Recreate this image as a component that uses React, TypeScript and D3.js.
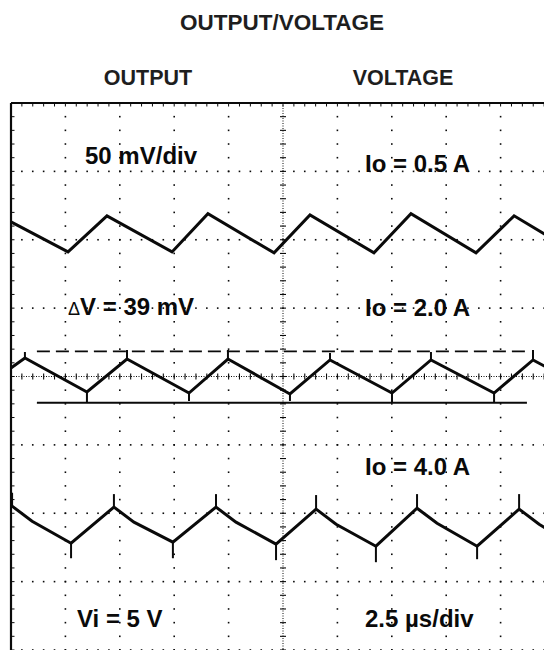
import React from "react";
import * as d3 from "d3";

// Oscilloscope settings
const TIME_PER_DIV = 2.5; // µs/div
const VOLT_PER_DIV = 50; // mV/div
const X_DIVS = 10;
const Y_DIVS = 8;

// Trace 1: Io = 0.5 A  (time µs, voltage mV relative to screen centre)
const trace1T = [0, 2.62, 4.41, 7.4, 9.05, 12.09, 13.74, 16.68, 18.38, 21.37, 23.12, 25];
const trace1V = [113.1, 91.1, 117.5, 91.1, 119.0, 90.4, 118.2, 90.4, 119.0, 90.4, 117.5, 99.6];

// Trace 2: Io = 2.0 A
const trace2T = [0, 0.64, 3.49, 5.33, 8.18, 9.97, 12.82, 14.66, 17.51, 19.3, 22.2, 23.99, 25];
const trace2V = [6.2, 13.5, -11.3, 12.8, -12.1, 12.8, -12.8, 12.1, -12.1, 12.1, -12.1, 12.1, 3.5];
const spike2T = [0.64, 3.49, 5.33, 8.18, 9.97, 12.82, 14.66, 17.51, 19.3, 22.2, 23.99];
const spike2Tip = [17.9, -18.7, 19.4, -17.9, 19.4, -17.9, 17.2, -19.4, 17.9, -19.4, 19.4];

// Trace 3: Io = 4.0 A
const trace3T = [0.05, 0.97, 2.76, 4.73, 5.65, 7.44, 9.42, 10.34, 12.18, 14.02, 14.94, 16.77, 18.66, 19.58, 21.42, 23.35, 24.27, 25];
const trace3V = [-94.8, -105.8, -121.9, -95.5, -106.5, -121.1, -95.5, -106.5, -122.6, -97.0, -108.0, -124.1, -96.3, -107.3, -124.1, -97.0, -108.0, -115.0];
const spike3T = [0.05, 2.76, 4.73, 7.44, 9.42, 12.18, 14.02, 16.77, 18.66, 21.42, 23.35];
const spike3Tip = [-85.0, -132.9, -86.0, -132.9, -86.0, -134.3, -86.7, -135.8, -86.0, -133.6, -86.0];

// Cursors for ΔV measurement (Io = 2.0 A)
const cursorT = [1.19, 23.71];
const cursorUpper = 18.4;
const cursorLower = -19.2;

// Texts
const titleText = "OUTPUT/VOLTAGE";
const subtitleLeft = "OUTPUT";
const subtitleRight = "VOLTAGE";
const labelTexts = ["50 mV/div", "Io = 0.5 A", "V = 39 mV", "Io = 2.0 A", "Io = 4.0 A", "Vi = 5 V", "2.5 µs/div"];

const W = 544;
const H = 650;
const FONT = "'Liberation Sans', Arial, Helvetica, sans-serif";
const INK = "#0a0a0a";

export default function App() {
  const tMax = TIME_PER_DIV * X_DIVS;
  const vMax = (VOLT_PER_DIV * Y_DIVS) / 2;
  const x = d3.scaleLinear().domain([0, tMax]).range([11, 555]);
  const y = d3.scaleLinear().domain([-vMax, vMax]).range([650, 103]);

  const line = d3
    .line<[number, number]>()
    .x((d) => x(d[0]))
    .y((d) => y(d[1]));

  const zip = (a: number[], b: number[]) => a.map((t, i) => [t, b[i]] as [number, number]);

  const vGrid = d3.range(1, X_DIVS).map((i) => i * TIME_PER_DIV).filter((t) => t !== tMax / 2);
  const hGrid = d3.range(-Y_DIVS / 2, Y_DIVS / 2).map((j) => j * VOLT_PER_DIV).filter((v) => v !== 0);
  const vSub = d3.range(-vMax, vMax + 0.01, VOLT_PER_DIV / 5);
  const tSub = d3.range(0, tMax + 0.01, TIME_PER_DIV / 5);

  const dots: JSX.Element[] = [];
  vGrid.forEach((t, i) =>
    vSub.forEach((v, k) =>
      dots.push(<rect key={`vd${i}-${k}`} x={x(t) - 0.8} y={y(v) - 0.8} width={1.6} height={1.6} fill={INK} />)
    )
  );
  hGrid.forEach((v, i) =>
    tSub.forEach((t, k) =>
      dots.push(<rect key={`hd${i}-${k}`} x={x(t) - 0.8} y={y(v) - 0.8} width={1.6} height={1.6} fill={INK} />)
    )
  );

  const cx = x(tMax / 2);
  const cy = y(0);

  const labelStyle = { fontFamily: FONT, fontWeight: 700, fontSize: 24, fill: INK } as const;

  return (
    <svg width={W} height={H} style={{ position: "absolute", left: 0, top: 0, background: "#fff" }}>
      <rect x={0} y={0} width={W} height={H} fill="#fff" />
      {/* titles */}
      <text x={282} y={30} textAnchor="middle" style={{ fontFamily: FONT, fontWeight: 700, fontSize: 22.5, fill: "#1e1e1e" }}>
        {titleText}
      </text>
      <text x={148} y={85} textAnchor="middle" style={{ fontFamily: FONT, fontWeight: 700, fontSize: 21.5, fill: "#1e1e1e" }}>
        {subtitleLeft}
      </text>
      <text x={403} y={85} textAnchor="middle" style={{ fontFamily: FONT, fontWeight: 700, fontSize: 21.5, fill: "#1e1e1e" }}>
        {subtitleRight}
      </text>

      {/* grid dots */}
      <g>{dots}</g>

      {/* centre axes */}
      <line x1={cx} x2={cx} y1={y(vMax)} y2={y(-vMax)} stroke={INK} strokeWidth={1} strokeDasharray="1,1.5" />
      <line x1={x(0)} x2={x(tMax)} y1={cy} y2={cy} stroke={INK} strokeWidth={1} strokeDasharray="1,1.5" />
      {vSub.map((v, k) => (
        <line key={`cvt${k}`} x1={cx - 3} x2={cx + 3} y1={y(v)} y2={y(v)} stroke={INK} strokeWidth={1.1} />
      ))}
      {tSub.map((t, k) => (
        <line key={`cht${k}`} x1={x(t)} x2={x(t)} y1={cy - 3} y2={cy + 3} stroke={INK} strokeWidth={1.1} />
      ))}

      {/* frame */}
      <line x1={x(0)} x2={x(tMax)} y1={y(vMax)} y2={y(vMax)} stroke={INK} strokeWidth={2} />
      <line x1={x(0)} x2={x(0)} y1={y(vMax)} y2={y(-vMax)} stroke={INK} strokeWidth={2.2} />
      {vSub.map((v, k) => (
        <line key={`lt${k}`} x1={x(0)} x2={x(0) + 3.5} y1={y(v)} y2={y(v)} stroke={INK} strokeWidth={1} />
      ))}
      {tSub.map((t, k) => (
        <line key={`tt${k}`} x1={x(t)} x2={x(t)} y1={y(vMax)} y2={y(vMax) + 3.5} stroke={INK} strokeWidth={1} />
      ))}

      {/* cursors */}
      <line x1={x(cursorT[0])} x2={x(cursorT[1])} y1={y(cursorUpper)} y2={y(cursorUpper)} stroke={INK} strokeWidth={1.7} strokeDasharray="13,6" />
      <line x1={x(cursorT[0])} x2={x(cursorT[1])} y1={y(cursorLower)} y2={y(cursorLower)} stroke={INK} strokeWidth={2} />

      {/* traces */}
      <path d={line(zip(trace1T, trace1V)) || ""} fill="none" stroke={INK} strokeWidth={3} strokeLinejoin="miter" />
      <path d={line(zip(trace2T, trace2V)) || ""} fill="none" stroke={INK} strokeWidth={3} strokeLinejoin="miter" />
      <path d={line(zip(trace3T, trace3V)) || ""} fill="none" stroke={INK} strokeWidth={3} strokeLinejoin="miter" />
      {spike2T.map((t, i) => (
        <line key={`s2${i}`} x1={x(t)} x2={x(t)} y1={y(trace2V[trace2T.indexOf(t)])} y2={y(spike2Tip[i])} stroke={INK} strokeWidth={2} />
      ))}
      {spike3T.map((t, i) => (
        <line key={`s3${i}`} x1={x(t)} x2={x(t)} y1={y(trace3V[trace3T.indexOf(t)])} y2={y(spike3Tip[i])} stroke={INK} strokeWidth={2} />
      ))}

      {/* labels */}
      <text x={85} y={164} style={labelStyle}>{labelTexts[0]}</text>
      <text x={365} y={172} style={labelStyle}>{labelTexts[1]}</text>
      <text x={68} y={315} style={labelStyle}>
        <tspan style={{ fontSize: 18, fontWeight: 400 }}>Δ</tspan>
        {labelTexts[2]}
      </text>
      <text x={365} y={316} style={labelStyle}>{labelTexts[3]}</text>
      <text x={365} y={475} style={labelStyle}>{labelTexts[4]}</text>
      <text x={77} y={627} style={labelStyle}>{labelTexts[5]}</text>
      <text x={365} y={627} style={labelStyle}>{labelTexts[6]}</text>
    </svg>
  );
}
